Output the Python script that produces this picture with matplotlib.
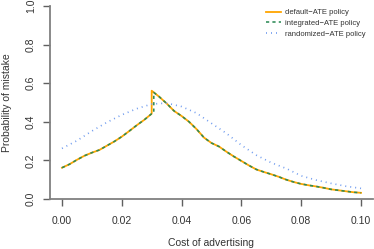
import matplotlib
matplotlib.use("Agg")

import matplotlib.pyplot as plt
import numpy as np

# cost of advertising grid (jump point repeated)
cost = [0.0, 0.0025, 0.005, 0.0075, 0.01, 0.0125, 0.015, 0.0175, 0.02, 0.0225, 0.025, 0.0275,
        0.03, 0.03, 0.0325, 0.035, 0.0375, 0.04, 0.0425, 0.045, 0.0475, 0.05, 0.0525, 0.055,
        0.0575, 0.06, 0.0625, 0.065, 0.0675, 0.07, 0.0725, 0.075, 0.0775, 0.08, 0.0825, 0.085,
        0.0875, 0.09, 0.0925, 0.095, 0.0975, 0.1]
default_ate = [0.162, 0.180, 0.203, 0.224, 0.240, 0.254, 0.276, 0.298, 0.323, 0.352, 0.382, 0.410,
               0.442, 0.561, 0.530, 0.495, 0.456, 0.430, 0.400, 0.362, 0.318, 0.290, 0.272, 0.245,
               0.220, 0.197, 0.174, 0.153, 0.140, 0.128, 0.115, 0.100, 0.088, 0.078, 0.071, 0.065,
               0.058, 0.050, 0.045, 0.040, 0.035, 0.032]

cost_int = [0.0, 0.0025, 0.005, 0.0075, 0.01, 0.0125, 0.015, 0.0175, 0.02, 0.0225, 0.025, 0.0275,
            0.03, 0.0307, 0.0307, 0.0325, 0.035, 0.0375, 0.04, 0.0425, 0.045, 0.0475, 0.05, 0.0525,
            0.055, 0.0575, 0.06, 0.0625, 0.065, 0.0675, 0.07, 0.0725, 0.075, 0.0775, 0.08, 0.0825,
            0.085, 0.0875, 0.09, 0.0925, 0.095, 0.0975, 0.1]
integrated_ate = [0.162, 0.180, 0.203, 0.224, 0.240, 0.254, 0.276, 0.298, 0.323, 0.352, 0.382, 0.410,
                  0.442, 0.447, 0.552, 0.530, 0.495, 0.456, 0.430, 0.400, 0.362, 0.318, 0.290, 0.272,
                  0.245, 0.220, 0.197, 0.174, 0.153, 0.140, 0.128, 0.115, 0.100, 0.088, 0.078, 0.071,
                  0.065, 0.058, 0.050, 0.045, 0.040, 0.035, 0.032]

cost_rand = [0.0, 0.005, 0.01, 0.015, 0.02, 0.025, 0.03, 0.035, 0.04, 0.045, 0.05,
             0.055, 0.06, 0.065, 0.07, 0.075, 0.08, 0.085, 0.09, 0.095, 0.1]
randomized_ate = [0.262, 0.302, 0.352, 0.397, 0.436, 0.468, 0.492, 0.497, 0.479, 0.445, 0.392,
                  0.340, 0.279, 0.227, 0.188, 0.158, 0.120, 0.098, 0.081, 0.066, 0.055]

xticks = [0.0, 0.02, 0.04, 0.06, 0.08, 0.1]
yticks = [0.0, 0.2, 0.4, 0.6, 0.8, 1.0]

plt.rcParams['font.family'] = ['Liberation Sans', 'DejaVu Sans']

fig = plt.figure(figsize=(3.74, 2.49), dpi=100)
ax = fig.add_axes([50 / 374, 50 / 249, 323 / 374, 193 / 249])

ax.plot(cost, default_ate, color="#FFA500", lw=1.3, label="default\u2212ATE policy")
ax.plot(cost_int, integrated_ate, color="#2E8B57", lw=1.15, ls=(0, (2.0, 2.0)),
        label="integrated\u2212ATE policy")
ax.plot(cost_rand, randomized_ate, color="#6F9BEF", lw=1.2, ls=(0, (0.6, 2.4)),
        label="randomized\u2212ATE policy")

ax.set_xlim(-0.004, 0.104)
ax.set_ylim(0, 1)
ax.set_xticks(xticks)
ax.set_xticklabels(["%.2f" % v for v in xticks])
ax.set_yticks(yticks)
ax.set_yticklabels(["%.1f" % v for v in yticks], rotation=90, va="center")

for s in ["top", "right"]:
    ax.spines[s].set_visible(False)
for s in ["left", "bottom"]:
    ax.spines[s].set_color("#808080")
    ax.spines[s].set_linewidth(1.3)
ax.tick_params(axis="both", colors="#606060", labelcolor="#333333", labelsize=7.5,
               length=5, width=1.0)
ax.tick_params(axis="x", pad=7)
ax.tick_params(axis="y", pad=5)

ax.set_xlabel("Cost of advertising", fontsize=7.5, color="#333333", labelpad=9)
ax.set_ylabel("Probability of mistake", fontsize=7.5, color="#333333", labelpad=10)

ax.legend(loc="upper right", bbox_to_anchor=(1.0, 1.02), frameon=False, fontsize=5.5,
          handlelength=2.0, handletextpad=0.6, labelspacing=0.45, labelcolor="#333333")

fig.savefig("out.png", dpi=100)
